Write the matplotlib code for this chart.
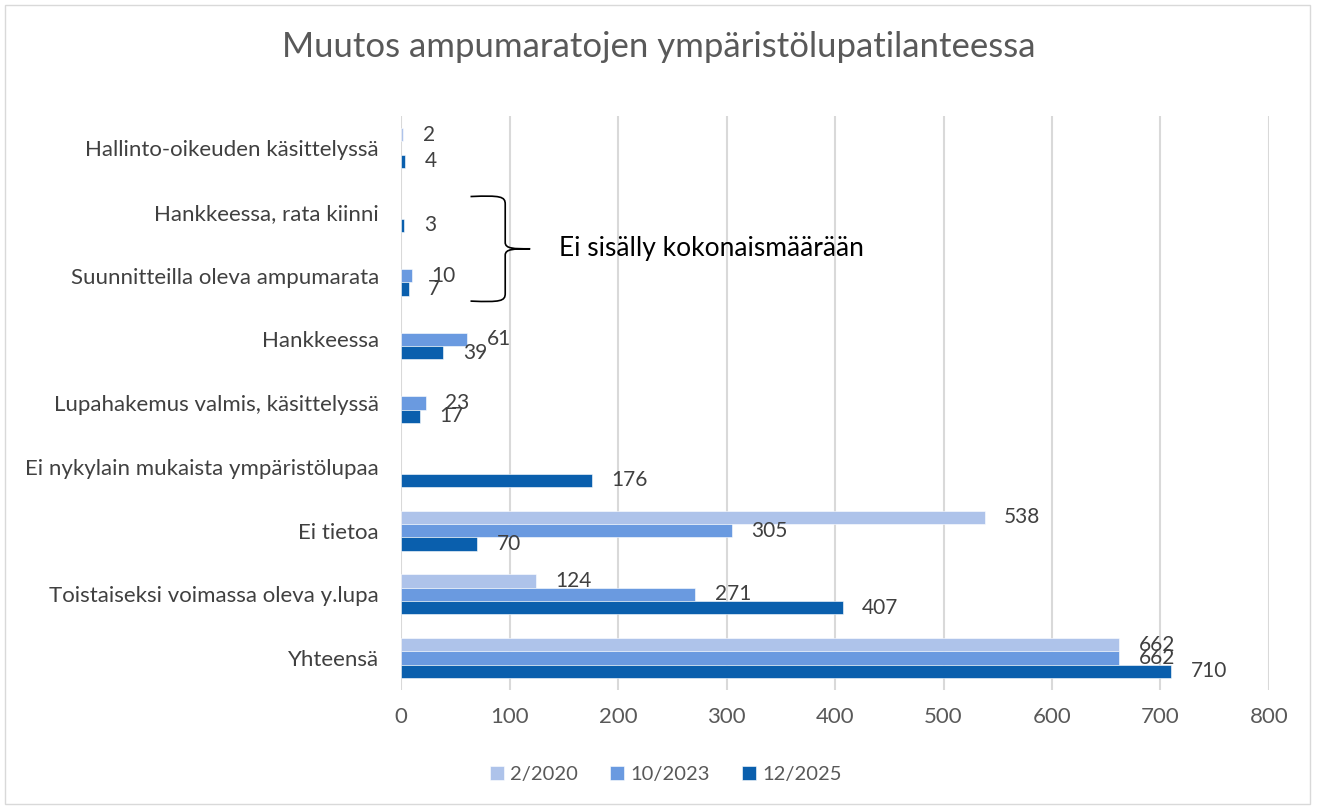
import numpy as np
import matplotlib.pyplot as plt
from matplotlib.path import Path
from matplotlib.patches import PathPatch, Rectangle

# categories listed bottom -> top
categories = [
    "Yhteensä",
    "Toistaiseksi voimassa oleva y.lupa",
    "Ei tietoa",
    "Ei nykylain mukaista ympäristölupaa",
    "Lupahakemus valmis, käsittelyssä",
    "Hankkeessa",
    "Suunnitteilla oleva ampumarata",
    "Hankkeessa, rata kiinni",
    "Hallinto-oikeuden käsittelyssä",
]
series_names = ["2/2020", "10/2023", "12/2025"]
v_2020 = [662, 124, 538, None, None, None, None, None, 2]
v_2023 = [662, 271, 305, None, 23, 61, 10, None, None]
v_2025 = [710, 407, 70, 176, 17, 39, 7, 3, 4]
x_ticks = [0, 100, 200, 300, 400, 500, 600, 700, 800]

colors = ["#aec3ea", "#6a9ae0", "#0a5fad"]
label_col = "#404040"
font = ["Lato", "DejaVu Sans"]
plt.rcParams["font.family"] = font

fig = plt.figure(figsize=(13.18, 8.07), dpi=100)
ax = fig.add_axes([0.3043, 0.145, 0.6585, 0.711])

y = np.arange(len(categories))
h = 0.21
for i, (name, vals, col) in enumerate(zip(series_names, [v_2020, v_2023, v_2025], colors)):
    offs = (1 - i) * h
    idx = [k for k, v in enumerate(vals) if v is not None]
    w = [vals[k] for k in idx]
    bars = ax.barh(y[idx] + offs, w, height=h, color=col, label=name, zorder=3,
                   edgecolor="white", linewidth=0.4)
    ax.bar_label(bars, labels=[str(v) for v in w], padding=14, fontsize=15,
                 color=label_col)

ax.set_xlim(0, 800)
ax.set_ylim(-0.5, len(categories) - 0.5)
ax.set_xticks(x_ticks)
ax.set_yticks(y)
ax.set_yticklabels(categories, fontsize=16, color=label_col)
ax.tick_params(axis="x", labelsize=16, labelcolor="#595959", length=0, pad=12)
ax.tick_params(axis="y", length=0, pad=16)
ax.grid(axis="x", color="#d9d9d9", linewidth=1.5, zorder=0)
for s in ax.spines.values():
    s.set_visible(False)

# curly brace for the two rows not included in the total
yb_top, yb_bot = 7 + 0.24, 6 - 0.4
xl, xr, xt = 64, 96, 119
ym = (yb_top + yb_bot) / 2
verts = [
    (xl, yb_top), (xr - 4, yb_top + 0.02), (xr, yb_top), (xr, yb_top - 0.12),
    (xr, ym + 0.1),
    (xr, ym), (xr + 8, ym), (xt, ym),
    (xr + 8, ym), (xr, ym), (xr, ym - 0.1),
    (xr, yb_bot + 0.12),
    (xr, yb_bot), (xr - 4, yb_bot - 0.02), (xl, yb_bot),
]
codes = [Path.MOVETO, Path.CURVE4, Path.CURVE4, Path.CURVE4,
         Path.LINETO,
         Path.CURVE4, Path.CURVE4, Path.CURVE4,
         Path.CURVE4, Path.CURVE4, Path.CURVE4,
         Path.LINETO,
         Path.CURVE4, Path.CURVE4, Path.CURVE4]
ax.add_patch(PathPatch(Path(verts, codes), fill=False, edgecolor="black",
                       linewidth=1.2, zorder=4, clip_on=False))
ax.text(146, ym, "Ei sisälly kokonaismäärään", fontsize=19, color="black",
        va="center", ha="left", zorder=4)

fig.suptitle("Muutos ampumaratojen ympäristölupatilanteessa", fontsize=25,
             color="#595959", y=0.962)

fig.legend(loc="center", bbox_to_anchor=(0.505, 0.04), ncol=3, frameon=False,
           fontsize=14.5, labelcolor="#595959", handlelength=0.7,
           handleheight=0.7, handletextpad=0.3, columnspacing=1.6)

fig.patches.append(Rectangle((0.004, 0.004), 0.99, 0.99, transform=fig.transFigure,
                             fill=False, edgecolor="#d9d9d9", linewidth=1))

fig.savefig("out.png", dpi=100)
